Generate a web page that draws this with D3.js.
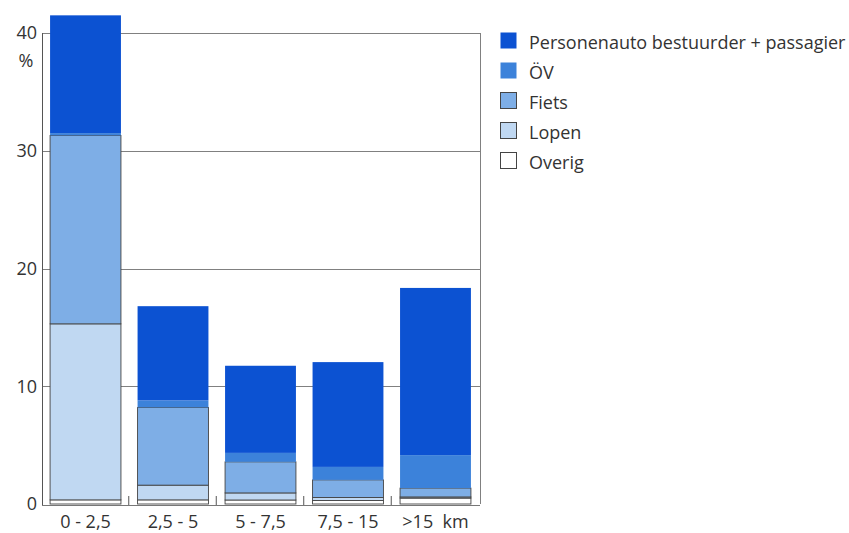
<!DOCTYPE html>
<html>
<head>
<meta charset="utf-8">
<script src="https://cdn.jsdelivr.net/npm/d3@7"></script>
<style>
  html, body { margin: 0; padding: 0; background: #fff; }
  svg { display: block; font-family: "Open Sans", sans-serif; }
</style>
</head>
<body>
<svg id="chart" width="849" height="533"></svg>
<script>
// Afstandsklassen (km) en aandeel verplaatsingen per vervoerwijze (%)
const categories = ["0 - 2,5", "2,5 - 5", "5 - 7,5", "7,5 - 15", ">15"];
const seriesNames = ["Overig", "Lopen", "Fiets", "ÖV", "Personenauto bestuurder + passagier"];
const overig = [0.35, 0.35, 0.34, 0.3, 0.5];
const lopen  = [14.95, 1.25, 0.6, 0.25, 0.1];
const fiets  = [16.0, 6.6, 2.64, 1.5, 0.75];
const ov     = [0.2, 0.6, 0.76, 1.1, 2.8];
const auto   = [10.0, 8.0, 7.4, 8.9, 14.2];
const yTicks = [0, 10, 20, 30, 40];
const legendLabels = ["Personenauto bestuurder + passagier", "ÖV", "Fiets", "Lopen", "Overig"];

const colors = {
  "Personenauto bestuurder + passagier": "#0c52d2",
  "ÖV": "#3c82da",
  "Fiets": "#7eaee6",
  "Lopen": "#c0d8f2",
  "Overig": "#ffffff"
};
const outlined = new Set(["Fiets", "Lopen", "Overig"]);
const FONT = "'Open Sans', sans-serif";

const rows = categories.map((c, i) => ({
  cat: c,
  "Overig": overig[i],
  "Lopen": lopen[i],
  "Fiets": fiets[i],
  "ÖV": ov[i],
  "Personenauto bestuurder + passagier": auto[i]
}));

const svg = d3.select("#chart");
const mLeft = 42, mRight = 480, mTop = 33, mBottom = 504;

const x = d3.scaleBand().domain(categories)
  .range([mLeft - 0.5, mRight - 0.5]).paddingInner(0.19).paddingOuter(0.098);
const y = d3.scaleLinear().domain([0, 40]).range([mBottom, mTop]);

// raster
svg.append("g").selectAll("line").data(yTicks.filter(v => v > 0)).join("line")
  .attr("x1", mLeft).attr("x2", mRight)
  .attr("y1", d => Math.round(y(d)) + 0.5).attr("y2", d => Math.round(y(d)) + 0.5)
  .attr("stroke", "#808080").attr("stroke-width", 1);

// kader rechts en as links
svg.append("line").attr("x1", mRight + 0.5).attr("x2", mRight + 0.5)
  .attr("y1", mTop).attr("y2", mBottom).attr("stroke", "#808080");
svg.append("line").attr("x1", mLeft + 0.5).attr("x2", mLeft + 0.5)
  .attr("y1", mTop).attr("y2", mBottom + 1).attr("stroke", "#555");
svg.append("line").attr("x1", mLeft).attr("x2", mRight)
  .attr("y1", mBottom + 1.5).attr("y2", mBottom + 1.5).attr("stroke", "#777");

// gestapelde staven
const stack = d3.stack().keys(seriesNames)(rows);
svg.append("g").selectAll("g").data(stack).join("g")
  .attr("fill", d => colors[d.key])
  .attr("stroke", d => outlined.has(d.key) ? "#444" : "none")
  .attr("stroke-width", 0.9)
  .selectAll("rect").data(d => d).join("rect")
  .attr("x", d => x(d.data.cat))
  .attr("width", x.bandwidth())
  .attr("y", d => y(d[1]))
  .attr("height", d => y(d[0]) - y(d[1]));

// kleine streepjes tussen de staven op de basislijn
svg.append("g").selectAll("line").data(categories.slice(1)).join("line")
  .attr("x1", d => x(d) - x.step() * 0.19 / 2 - 0.5)
  .attr("x2", d => x(d) - x.step() * 0.19 / 2 - 0.5)
  .attr("y1", mBottom - 8).attr("y2", mBottom + 1)
  .attr("stroke", "#555");

// y-as labels
const yAxis = d3.axisLeft(y).tickValues(yTicks).tickSize(0).tickPadding(5);
const ya = svg.append("g").attr("transform", `translate(${mLeft},0)`).call(yAxis);
ya.select(".domain").remove();
ya.selectAll("text").attr("font-size", 18).attr("fill", "#333")
  .attr("font-family", FONT);
svg.append("text").attr("x", 26).attr("y", 67).attr("text-anchor", "middle")
  .attr("font-family", FONT).attr("font-size", 18).attr("fill", "#333").text("%");

// x-as labels
const xAxis = d3.axisBottom(x).tickSize(0).tickPadding(10)
  .tickFormat(d => d === ">15" ? ">15\u00a0\u00a0km" : d);
const xa = svg.append("g").attr("transform", `translate(0,${mBottom + 1})`).call(xAxis);
xa.select(".domain").remove();
xa.selectAll("text").attr("font-size", 18).attr("fill", "#333")
  .attr("font-family", FONT);

// legenda
const lg = svg.append("g").attr("transform", "translate(500,0)");
const item = lg.selectAll("g").data(legendLabels).join("g")
  .attr("transform", (d, i) => `translate(0,${49 + i * 30})`);
item.append("rect").attr("x", 0.5).attr("y", -16.5).attr("width", 16).attr("height", 16)
  .attr("fill", d => colors[d])
  .attr("stroke", d => outlined.has(d) ? "#444" : "none");
item.append("text").attr("x", 29).attr("y", 0)
  .attr("font-family", FONT)
  .attr("font-size", 18).attr("fill", "#333").text(d => d);
</script>
</body>
</html>
